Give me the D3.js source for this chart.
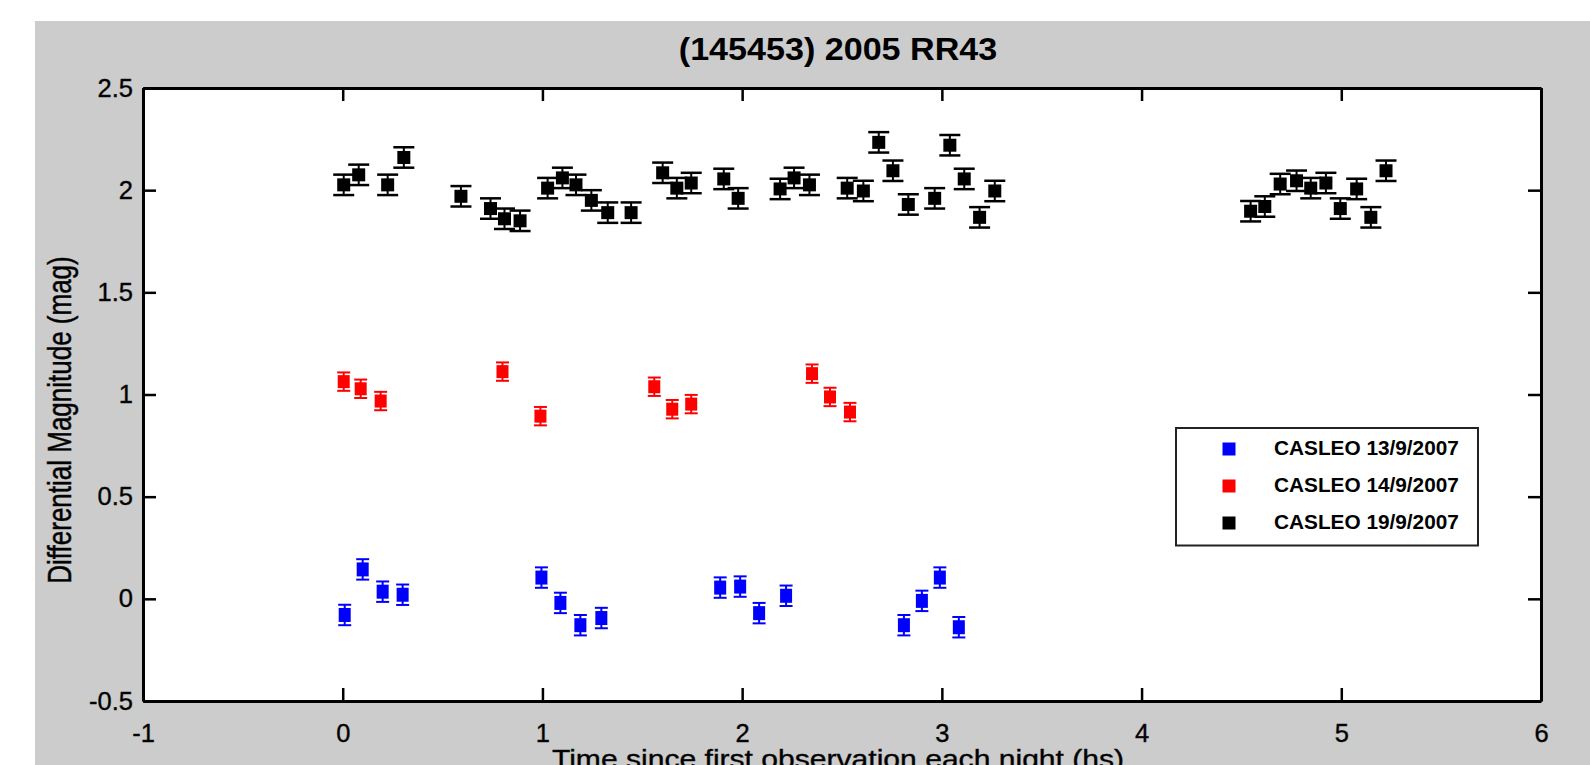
<!DOCTYPE html>
<html>
<head>
<meta charset="utf-8">
<script src="https://cdn.jsdelivr.net/npm/d3@7"></script>
<style>
  html, body { margin: 0; padding: 0; background: #ffffff; }
  svg { display: block; }
  text { font-family: "Liberation Sans", Arial, sans-serif; fill: #000; }
</style>
</head>
<body>
<svg id="chart" width="1590" height="765"></svg>
<script>
// ---------------- data ----------------
const chartTitle = "(145453) 2005 RR43";
const xLabel = "Time since first observation each night (hs)";
const yLabel = "Differential Magnitude (mag)";
const xTicks = [-1, 0, 1, 2, 3, 4, 5, 6];
const yTicks = [-0.5, 0, 0.5, 1, 1.5, 2, 2.5];
const seriesNames = ["CASLEO 13/9/2007", "CASLEO 14/9/2007", "CASLEO 19/9/2007"];
const seriesColors = ["#0000ff", "#ff0000", "#000000"];

// CASLEO 13/9/2007 (blue)
const blueTime = [0.01, 0.10, 0.20, 0.30, 0.995, 1.09, 1.19, 1.295, 1.89, 1.99, 2.085, 2.22, 2.81, 2.90, 2.99, 3.085];
const blueMag  = [-0.079, 0.144, 0.035, 0.02, 0.104, -0.02, -0.129, -0.094, 0.055, 0.06, -0.07, 0.015, -0.129, -0.01, 0.104, -0.139];
const blueErr  = [0.05, 0.05, 0.05, 0.05, 0.05, 0.05, 0.05, 0.05, 0.05, 0.05, 0.05, 0.05, 0.05, 0.05, 0.05, 0.05];

// CASLEO 14/9/2007 (red)
const redTime = [0.005, 0.09, 0.19, 0.80, 0.99, 1.56, 1.65, 1.745, 2.35, 2.44, 2.54];
const redMag  = [1.063, 1.028, 0.968, 1.112, 0.894, 1.038, 0.928, 0.953, 1.102, 0.988, 0.914];
const redErr  = [0.045, 0.045, 0.045, 0.045, 0.045, 0.045, 0.045, 0.045, 0.045, 0.045, 0.045];

// CASLEO 19/9/2007 (black)
const blackTime = [0.005, 0.08, 0.225, 0.306, 0.592, 0.74, 0.81, 0.888, 1.026, 1.10, 1.168, 1.245, 1.327, 1.444,
                   1.602, 1.673, 1.745, 1.908, 1.98, 2.19, 2.26, 2.337, 2.526, 2.607, 2.684, 2.755, 2.832, 2.964,
                   3.04, 3.112, 3.189, 3.265, 4.546, 4.617, 4.694, 4.776, 4.847, 4.923, 4.995, 5.077, 5.148, 5.224];
const blackMag  = [2.026, 2.075, 2.026, 2.16, 1.97, 1.91, 1.86, 1.85, 2.01, 2.06, 2.026, 1.95, 1.89, 1.89,
                   2.085, 2.01, 2.035, 2.055, 1.96, 2.006, 2.06, 2.026, 2.01, 1.996, 2.234, 2.095, 1.93, 1.96,
                   2.22, 2.055, 1.867, 1.996, 1.897, 1.92, 2.03, 2.046, 2.01, 2.035, 1.91, 2.006, 1.867, 2.095];
const blackErr  = blackTime.map(() => 0.05);

// ---------------- layout ----------------
const W = 1590, H = 765;
const plot = { left: 143, right: 1541, top: 88, bottom: 701 };

const svg = d3.select("#chart");

svg.append("rect").attr("x", 35).attr("y", 21).attr("width", W - 35).attr("height", H - 21)
  .attr("fill", "#cccccc");
svg.append("rect").attr("x", plot.left).attr("y", plot.top)
  .attr("width", plot.right - plot.left).attr("height", plot.bottom - plot.top)
  .attr("fill", "#ffffff");

const x = d3.scaleLinear().domain([-1, 6]).range([plot.left, plot.right]);
const y = d3.scaleLinear().domain([-0.5, 2.5]).range([plot.bottom, plot.top]);

// ---------------- data marks ----------------
function drawSeries(times, mags, errs, color, capW, mw, mh, lw) {
  const g = svg.append("g");
  const pts = times.map((t, i) => ({ t, m: mags[i], e: errs[i] }));
  const pg = g.selectAll("g").data(pts).join("g");
  pg.append("line")
    .attr("x1", d => x(d.t)).attr("x2", d => x(d.t))
    .attr("y1", d => y(d.m - d.e)).attr("y2", d => y(d.m + d.e))
    .attr("stroke", color).attr("stroke-width", 2);
  pg.append("line")
    .attr("x1", d => x(d.t) - capW / 2).attr("x2", d => x(d.t) + capW / 2)
    .attr("y1", d => y(d.m + d.e)).attr("y2", d => y(d.m + d.e))
    .attr("stroke", color).attr("stroke-width", lw);
  pg.append("line")
    .attr("x1", d => x(d.t) - capW / 2).attr("x2", d => x(d.t) + capW / 2)
    .attr("y1", d => y(d.m - d.e)).attr("y2", d => y(d.m - d.e))
    .attr("stroke", color).attr("stroke-width", lw);
  pg.append("rect")
    .attr("x", d => x(d.t) - mw / 2).attr("y", d => y(d.m) - mh / 2)
    .attr("width", mw).attr("height", mh)
    .attr("fill", color);
}
drawSeries(blackTime, blackMag, blackErr, seriesColors[2], 21, 13, 13, 2.5);
drawSeries(redTime, redMag, redErr, seriesColors[1], 13, 12, 13, 2);
drawSeries(blueTime, blueMag, blueErr, seriesColors[0], 13, 12, 14, 2);

// ---------------- axes ----------------
const tickLen = 13;
function styleAxis(g) {
  g.select(".domain").attr("stroke", "#000").attr("stroke-width", 3);
  g.selectAll(".tick line").attr("stroke", "#000").attr("stroke-width", 2.5);
}
const fmt = d => String(d);
const tickStretch = 1.02;

const gBottom = svg.append("g").attr("transform", `translate(0,${plot.bottom})`)
  .call(d3.axisBottom(x).tickValues(xTicks).tickSizeInner(-tickLen).tickSizeOuter(0)
        .tickPadding(23).tickFormat(fmt));
styleAxis(gBottom);
gBottom.selectAll(".tick text")
  .attr("font-size", 25).attr("font-family", "Liberation Sans, Arial, sans-serif")
  .attr("fill", "#111").attr("stroke", "#111").attr("stroke-width", 0.4)
  .attr("transform", `scale(${tickStretch},1)`);

const gTop = svg.append("g").attr("transform", `translate(0,${plot.top})`)
  .call(d3.axisTop(x).tickValues(xTicks).tickSizeInner(-tickLen).tickSizeOuter(0).tickFormat(""));
styleAxis(gTop);

const gLeft = svg.append("g").attr("transform", `translate(${plot.left},0)`)
  .call(d3.axisLeft(y).tickValues(yTicks).tickSizeInner(-tickLen).tickSizeOuter(0)
        .tickPadding(10).tickFormat(fmt));
styleAxis(gLeft);
gLeft.selectAll(".tick text")
  .attr("font-size", 25).attr("font-family", "Liberation Sans, Arial, sans-serif")
  .attr("fill", "#111").attr("stroke", "#111").attr("stroke-width", 0.4)
  .attr("x", -10 / tickStretch).attr("transform", `scale(${tickStretch},1)`);

const gRight = svg.append("g").attr("transform", `translate(${plot.right},0)`)
  .call(d3.axisRight(y).tickValues(yTicks).tickSizeInner(-tickLen).tickSizeOuter(0).tickFormat(""));
styleAxis(gRight);

// ---------------- titles ----------------
svg.append("text")
  .attr("transform", `translate(838,60) scale(1.1,1)`)
  .attr("text-anchor", "middle").attr("font-size", 31).attr("font-weight", "bold")
  .attr("fill", "#111")
  .text(chartTitle);

svg.append("text")
  .attr("transform", `translate(838,768) scale(1.18,1)`)
  .attr("text-anchor", "middle").attr("font-size", 25.5)
  .attr("fill", "#111").attr("stroke", "#111").attr("stroke-width", 0.4)
  .text(xLabel);

svg.append("text")
  .attr("transform", `translate(71,420) rotate(-90) scale(1,1.3)`)
  .attr("text-anchor", "middle").attr("font-size", 26)
  .attr("fill", "#111").attr("stroke", "#111").attr("stroke-width", 0.4)
  .text(yLabel);

// ---------------- legend ----------------
const legend = svg.append("g");
legend.append("rect").attr("x", 1176).attr("y", 428).attr("width", 302).attr("height", 117.5)
  .attr("fill", "#ffffff").attr("stroke", "#222").attr("stroke-width", 2);
const legY = d3.scalePoint().domain(seriesNames).range([449, 523]);
const rows = legend.selectAll("g.row").data(seriesNames).join("g").attr("class", "row");
rows.append("rect")
  .attr("x", 1229 - 6.5).attr("y", d => legY(d) - 6.5).attr("width", 13).attr("height", 13)
  .attr("fill", (d, i) => seriesColors[i]);
rows.append("text")
  .attr("transform", d => `translate(1274,${legY(d) + 5.5}) scale(1.04,1)`)
  .attr("font-size", 20).attr("font-weight", "bold").attr("fill", "#111")
  .text(d => d);
</script>
</body>
</html>
